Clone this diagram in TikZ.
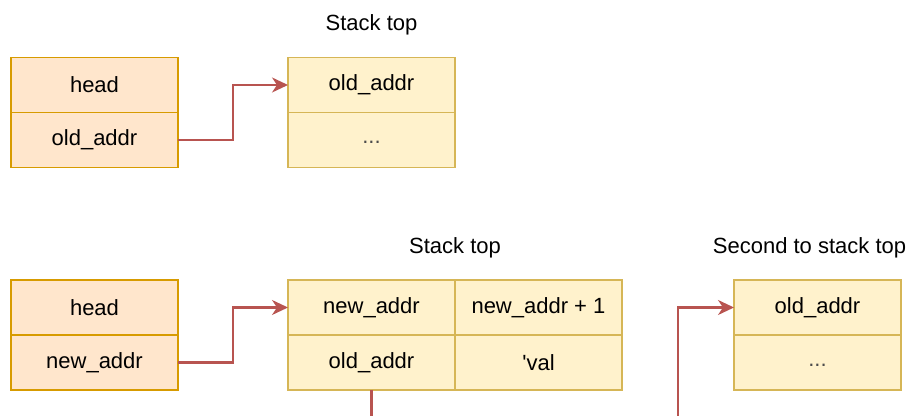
\documentclass[tikz,border=0pt]{standalone}
\usepackage{fontspec}
\setmainfont{Liberation Sans}
\usetikzlibrary{positioning}
\usetikzlibrary{arrows.meta}

\definecolor{headfill}{HTML}{FFE6CC}
\definecolor{headline}{HTML}{D79B00}
\definecolor{stackfill}{HTML}{FFF2CC}
\definecolor{stackline}{HTML}{D6B656}
\definecolor{ptrline}{HTML}{B85450}

\begin{document}
\begin{tikzpicture}
[
x=0.5pt, y=-0.5pt,
every node/.style={font=\fontsize{11}{13}\selectfont},
% cells of the head register
headcell/.style={rectangle, draw=headline, fill=headfill, line width=0.6pt,
minimum width=83.5pt, minimum height=27.5pt, inner sep=0, outer sep=0},
% cells of a stack frame
stackcell/.style={headcell, draw=stackline, fill=stackfill},
% rest of a frame
dotcell/.style={stackcell, text=black!70, text height=4pt, text depth=0pt},
% frame titles
title/.style={inner sep=0},
% pointer arrows
arrow/.style={-{Stealth[length=8pt, width=7.5pt, inset=2.5pt]}, draw=ptrline,
line width=1.1pt}
]
\useasboundingbox (0,0) rectangle (907,416);

% before the push
\node [headcell] at (94.5,85) (head1) {head};
\node [headcell, below=0 of head1] (old1) {old\_addr};
\node [stackcell, right=55pt of head1] (top1) {old\_addr};
\node [dotcell, below=0 of top1] (dots1) {...};
\node [title, above=11pt of top1] (title1) {Stack top};

% after the push
\node [headcell] at (94.5,307.5) (head2) {head};
\node [headcell, below=0 of head2] (new2) {new\_addr};
\node [stackcell, right=55pt of head2] (top2) {new\_addr};
\node [stackcell, right=0 of top2] (top2b) {new\_addr + 1};
\node [stackcell, below=0 of top2] (old2) {old\_addr};
\node [stackcell, below=0 of top2b] (val2) {\textquotesingle val};
\node [title, above=11pt of top2.north east] (title2) {Stack top};
\node [stackcell, right=56pt of top2b] (second) {old\_addr};
\node [dotcell, below=0 of second] (dots2) {...};
\node [title, above=11pt of second, xshift=-4pt] (title3) {Second to stack top};

% links
\draw [arrow] (old1.east) -- ++(55,0) |- (top1.west);
\draw [arrow] (new2.east) -- ++(55,0) |- (top2.west);
\coordinate (cut1) at (old2.south |- 0,420);
\coordinate (cut2) at (678,420);
\draw [draw=ptrline, line width=1.1pt] (old2.south) -- (cut1);
\draw [arrow] (cut2) |- (second.west);
\end{tikzpicture}
\end{document}
